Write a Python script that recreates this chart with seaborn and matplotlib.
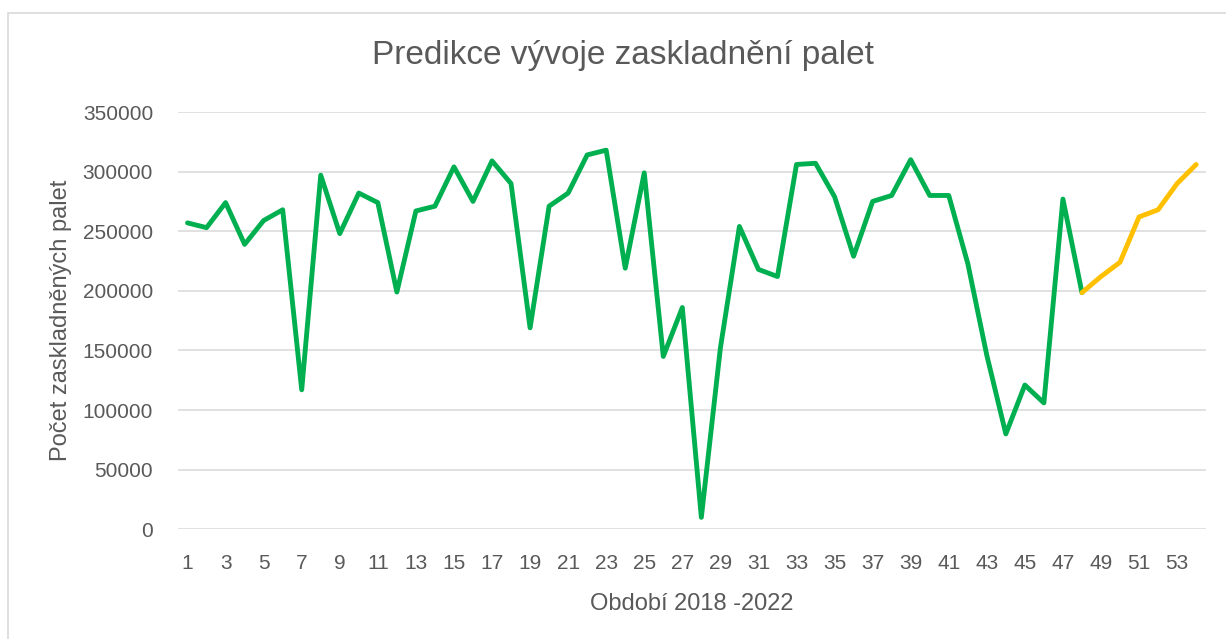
import pandas as pd
import numpy as np
import seaborn as sns
import matplotlib.pyplot as plt
from matplotlib.patches import Rectangle

# skutecnost 1-48, predikce 48-54
obdobi_skut = list(range(1, 49))
palety_skut = [257000, 253000, 274000, 239000, 259000, 268000, 117000, 297000,
               248000, 282000, 274000, 199000, 267000, 271000, 304000, 275000,
               309000, 290000, 169000, 271000, 282000, 314000, 318000, 219000,
               299000, 145000, 186000, 10000, 152000, 254000, 218000, 212000,
               306000, 307000, 279000, 229000, 275000, 280000, 310000, 280000,
               280000, 223000, 146000, 80000, 121000, 106000, 277000, 198500]
obdobi_pred = list(range(48, 55))
palety_pred = [198500, 212000, 224000, 262000, 268000, 290000, 306000]

df = pd.concat([
    pd.DataFrame({'obdobi': obdobi_skut, 'palety': palety_skut, 'serie': 'skutecnost'}),
    pd.DataFrame({'obdobi': obdobi_pred, 'palety': palety_pred, 'serie': 'predikce'}),
])

sns.set_style('white')
plt.rcParams['font.family'] = ['Liberation Sans', 'DejaVu Sans']
text_col = '#595959'

fig = plt.figure(figsize=(12.26, 6.39), dpi=100)
ax = fig.add_axes([0.1452, 0.1717, 0.8382, 0.653])

sns.lineplot(data=df, x='obdobi', y='palety', hue='serie',
             palette={'skutecnost': '#00B050', 'predikce': '#FFC000'},
             linewidth=3.5, legend=False, ax=ax)

ax.set_xlim(0.5, 54.5)
ax.set_ylim(0, 350000)
ax.set_yticks(np.arange(0, 350001, 50000))
ax.set_xticks(range(1, 55, 2))
ax.grid(axis='y', color='#D9D9D9', linewidth=1.1)
ax.set_axisbelow(True)
for s in ax.spines.values():
    s.set_visible(False)
ax.tick_params(axis='both', length=0, labelsize=15, colors=text_col)
ax.tick_params(axis='y', pad=18)
ax.tick_params(axis='x', pad=18)

ax.set_xlabel('Období 2018 -2022', fontsize=17, color=text_col, labelpad=14)
ax.set_ylabel('Počet zaskladněných palet', fontsize=17, color=text_col, labelpad=8)
fig.text(0.508, 0.913, 'Predikce vývoje zaskladnění palet', fontsize=24,
         color=text_col, ha='center', va='center')

# ramecek grafu
fig.patches.append(Rectangle((8 / 1226, -0.1), 1.2, 1 - 13 / 639 + 0.1,
                             transform=fig.transFigure, fill=False,
                             edgecolor='#D9D9D9', linewidth=1.2))

fig.savefig('out.png', dpi=100)
